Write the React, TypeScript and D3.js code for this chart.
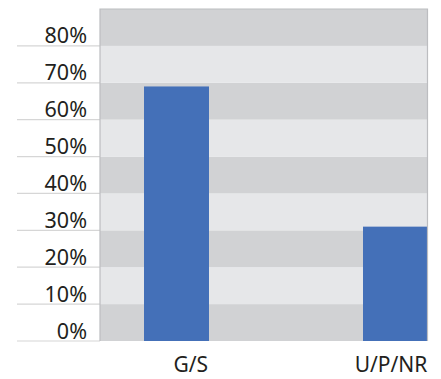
import React from "react";
import * as d3 from "d3";

const categories = ["G/S", "U/P/NR"];
const values = [69, 31];
const yTicks = [0, 10, 20, 30, 40, 50, 60, 70, 80];
const bandStarts = [0, 10, 20, 30, 40, 50, 60, 70, 80];

const W = 441;
const H = 379;
const plot = { left: 100, right: 427.5, top: 9, bottom: 341 };

export default function App() {
  const y = d3.scaleLinear().domain([0, 90]).range([plot.bottom, plot.top]);
  const x = d3.scalePoint<string>().domain(categories).range([176.5, 395.5]);
  const xLabel = d3.scalePoint<string>().domain(categories).range([190.7, 391]);
  const barW = 65;
  const font = "'Noto Sans', 'Open Sans', sans-serif";

  return (
    <svg width={W} height={H} style={{ position: "absolute", left: 0, top: 0 }}>
      <rect width={W} height={H} fill="#ffffff" />
      {bandStarts.map((b, i) => (
        <rect
          key={b}
          x={plot.left}
          width={plot.right - plot.left}
          y={y(b + 10)}
          height={y(b) - y(b + 10)}
          fill={i % 2 === 0 ? "#d1d2d4" : "#e6e7e9"}
        />
      ))}
      {yTicks.map((t) => (
        <g key={t}>
          <line x1={17} x2={plot.left} y1={y(t)} y2={y(t)} stroke="#d6d6d6" strokeWidth={1.2} />
          <text
            x={87}
            y={y(t) - 2.5}
            textAnchor="end"
            fontFamily={font}
            fontSize={21.5}
            fill="#231f20"
          >
            {t}%
          </text>
        </g>
      ))}
      {categories.map((c, i) => (
        <rect
          key={c}
          x={(x(c) as number) - barW / 2}
          width={barW}
          y={y(values[i])}
          height={y(0) - y(values[i])}
          fill="#4470b8"
        />
      ))}
      <path
        d={`M${plot.left},${plot.bottom}V${plot.top}H${plot.right}V${plot.bottom}`}
        fill="none"
        stroke="#bcbdc0"
        strokeWidth={1.2}
      />
      {categories.map((c) => (
        <text
          key={c}
          x={xLabel(c) as number}
          y={372.3}
          textAnchor="middle"
          fontFamily={font}
          fontSize={21}
          fill="#231f20"
        >
          {c}
        </text>
      ))}
    </svg>
  );
}
